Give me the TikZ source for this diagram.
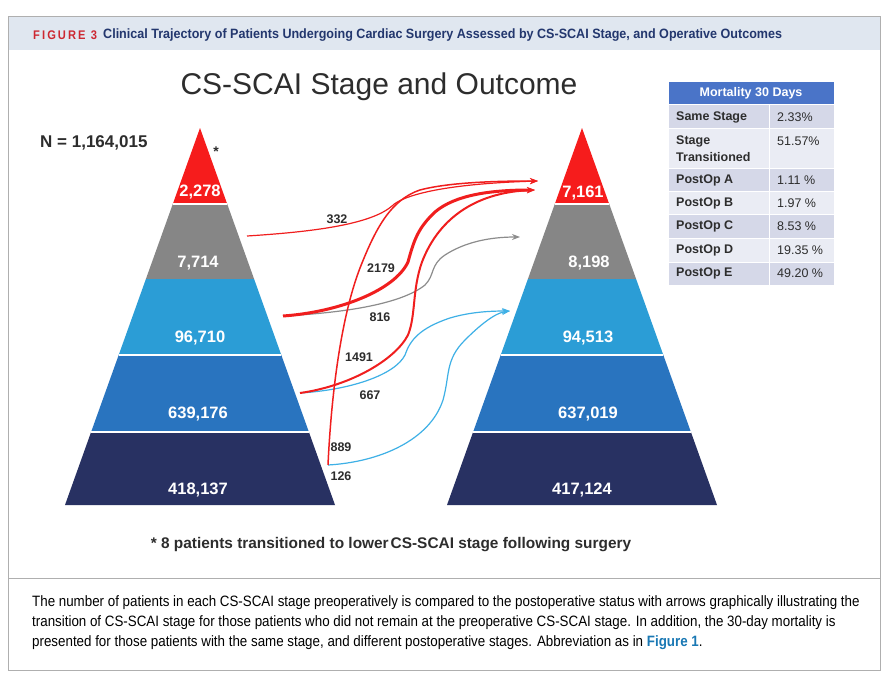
\documentclass[tikz,border=0pt]{standalone}
\usepackage{fontspec}
\setmainfont{Liberation Sans}
\newfontfamily\condfont[FakeStretch=0.89]{Liberation Sans}
\newfontfamily\hdrfont[FakeStretch=0.93]{Liberation Sans}
\usetikzlibrary{arrows.meta}
\definecolor{pred}{RGB}{246,28,28}
\definecolor{pgray}{RGB}{134,134,134}
\definecolor{plblue}{RGB}{43,157,214}
\definecolor{pmblue}{RGB}{41,116,191}
\definecolor{pnavy}{RGB}{40,49,98}
\definecolor{ared}{RGB}{240,30,30}
\definecolor{agray}{RGB}{140,140,140}
\definecolor{ablue}{RGB}{62,176,230}
\definecolor{thead}{RGB}{74,116,200}
\definecolor{rowdark}{RGB}{213,216,232}
\definecolor{rowlight}{RGB}{234,236,244}
\definecolor{hband}{RGB}{224,231,240}
\definecolor{framec}{RGB}{175,175,175}
\definecolor{figred}{RGB}{205,40,50}
\definecolor{titnavy}{RGB}{35,55,110}
\definecolor{txtdark}{RGB}{45,45,45}
\definecolor{linkblue}{RGB}{25,120,180}
\begin{document}
\begin{tikzpicture}[x=1pt,y=-1pt,
  bandlabel/.style={text=white,inner sep=0pt,font=\bfseries\fontsize{16.5}{19}\selectfont},
  cnt/.style={text=txtdark,inner sep=0pt,font=\bfseries\fontsize{12.5}{15}\selectfont},
  tcell/.style={text=txtdark,inner sep=0pt,anchor=west,font=\bfseries\fontsize{12.5}{15}\selectfont},
  tval/.style={text=txtdark,inner sep=0pt,anchor=west,font=\fontsize{12.5}{15}\selectfont},
  sep/.style={draw=white,line width=1.8pt},
  redarr/.style={draw=ared,-{Stealth[length=8pt,width=6pt]}},
  grayarr/.style={draw=agray,line width=1.2pt,-{Stealth[length=8pt,width=6pt]}},
  bluearr/.style={draw=ablue,line width=1.2pt,-{Stealth[length=8pt,width=6pt]}},
  captxt/.style={anchor=west,inner sep=0pt,text=black,font=\condfont\fontsize{15}{18}\selectfont}]
\useasboundingbox (0,0) rectangle (888,693);
\fill[white] (0,0) rectangle (888,693);
% frame
\fill[hband] (8,17) rectangle (880,50);
\draw[framec,line width=1pt] (8,17) rectangle (880,670);
\draw[framec,line width=1pt] (8,578) -- (880,578);
\node[anchor=west,inner sep=0pt,text=figred,font=\condfont\bfseries\fontsize{12.5}{14}\selectfont] (fig) at (33,35) {F\,I\,G\,U\,R\,E\,\ 3};
\node[anchor=west,inner sep=0pt,text=titnavy,font=\hdrfont\bfseries\fontsize{13.5}{15}\selectfont] (hdr) at (103,35) {Clinical Trajectory of Patients Undergoing Cardiac Surgery Assessed by CS-SCAI Stage, and Operative Outcomes};
% title
\node[text=txtdark,inner sep=0pt,font=\fontsize{30}{34}\selectfont] (title) at (379,87) {CS-SCAI Stage and Outcome};
\node[anchor=west,text=txtdark,inner sep=0pt,font=\bfseries\fontsize{17}{20}\selectfont] (ntot) at (40,143) {N = 1,164,015};
\node[text=txtdark,inner sep=0pt,font=\bfseries\fontsize{14}{16}\selectfont] (star) at (216,152) {*};
% left pyramid
\fill[pred] (200,128) -- (227.2,204) -- (172.8,204) -- cycle;
\fill[pgray] (172.8,204) -- (227.2,204) -- (254.1,279) -- (145.9,279) -- cycle;
\fill[plblue] (145.9,279) -- (254.1,279) -- (281.3,355) -- (118.7,355) -- cycle;
\fill[pmblue] (118.7,355) -- (281.3,355) -- (308.9,432) -- (91.1,432) -- cycle;
\fill[pnavy] (91.1,432) -- (308.9,432) -- (335,505) -- (65,505) -- cycle;
\draw[sep] (172.8,204) -- (227.2,204);
\draw[sep] (118.7,355) -- (281.3,355);
\draw[sep] (91.1,432) -- (308.9,432);
% right pyramid
\fill[pred] (582,128) -- (609.2,204) -- (554.8,204) -- cycle;
\fill[pgray] (554.8,204) -- (609.2,204) -- (636.1,279) -- (527.9,279) -- cycle;
\fill[plblue] (527.9,279) -- (636.1,279) -- (663.3,355) -- (500.7,355) -- cycle;
\fill[pmblue] (500.7,355) -- (663.3,355) -- (690.9,432) -- (473.1,432) -- cycle;
\fill[pnavy] (473.1,432) -- (690.9,432) -- (717,505) -- (447,505) -- cycle;
\draw[sep] (554.8,204) -- (609.2,204);
\draw[sep] (500.7,355) -- (663.3,355);
\draw[sep] (473.1,432) -- (690.9,432);
% band labels
\node[bandlabel] (L1) at (200,192) {2,278};
\node[bandlabel] (L2) at (198,263) {7,714};
\node[bandlabel] (L3) at (200,338) {96,710};
\node[bandlabel] (L4) at (198,414) {639,176};
\node[bandlabel] (L5) at (198,490) {418,137};
\node[bandlabel] (R1) at (583,193) {7,161};
\node[bandlabel] (R2) at (589,263) {8,198};
\node[bandlabel] (R3) at (588,338) {94,513};
\node[bandlabel] (R4) at (588,414) {637,019};
\node[bandlabel] (R5) at (582,490) {417,124};
% connector end points
\coordinate (sD) at (247,236);
\coordinate (sC) at (283,316);
\coordinate (sB) at (300,393);
\coordinate (sA) at (328,465);
\coordinate (tE1) at (538,181);
\coordinate (tE2) at (535,190);
\coordinate (tD) at (520,237);
\coordinate (tC) at (510,311);
% arrows
\draw[bluearr] (sB) .. controls (350,390) and (395,375) .. (405,355) .. controls (410,340) and (420,328) .. (450,318) .. controls (470,312) and (490,311) .. (tC);
\draw[bluearr] (sA) .. controls (380,462) and (430,440) .. (443,400) .. controls (450,375) and (445,360) .. (465,340) .. controls (480,325) and (495,313) .. (tC);
\draw[grayarr] (sC) .. controls (340,313) and (400,305) .. (425,285) .. controls (435,275) and (430,265) .. (445,255) .. controls (465,242) and (490,237) .. (tD);
\draw[redarr,line width=1.2pt] (sD) .. controls (310,232) and (370,225) .. (392,206) .. controls (402,196) and (440,184) .. (tE1);
\draw[redarr,line width=1.5pt] (sA) .. controls (331,400) and (340,320) .. (360,268) .. controls (375,230) and (390,200) .. (420,190) .. controls (450,182) and (500,181) .. (tE1);
\draw[redarr,line width=2pt] (sB) .. controls (350,386) and (395,360) .. (408,335) .. controls (416,315) and (412,290) .. (422,262) .. controls (440,215) and (480,192) .. (tE2);
\draw[redarr,line width=3pt] (sC) .. controls (340,312) and (395,290) .. (408,262) .. controls (414,240) and (418,228) .. (435,212) .. controls (455,195) and (490,190) .. (tE2);
% counts
\node[cnt] (c332) at (337,219) {332};
\node[cnt] (c2179) at (381,268) {2179};
\node[cnt] (c816) at (380,317) {816};
\node[cnt] (c1491) at (359,357) {1491};
\node[cnt] (c667) at (370,395) {667};
\node[cnt] (c889) at (341,447) {889};
\node[cnt] (c126) at (341,476) {126};
% table
\fill[thead] (669,82) rectangle (834,104);
\fill[rowdark] (669,104) rectangle (834,128);
\fill[rowlight] (669,128) rectangle (834,168);
\fill[rowdark] (669,168) rectangle (834,191);
\fill[rowlight] (669,191) rectangle (834,214);
\fill[rowdark] (669,214) rectangle (834,238);
\fill[rowlight] (669,238) rectangle (834,262);
\fill[rowdark] (669,262) rectangle (834,285);
\foreach \yy in {104,128,168,191,214,238,262} \draw[white,line width=1pt] (669,\yy) -- (834,\yy);
\draw[white,line width=1pt] (769,104) -- (769,285);
\node[text=white,inner sep=0pt,font=\bfseries\fontsize{12.5}{15}\selectfont] (th) at (751,93) {Mortality 30 Days};
\node[tcell] (t1) at (676,117) {Same Stage};
\node[tcell] (t2) at (676,141) {Stage};
\node[tcell] (t2b) at (676,157) {Transitioned};
\node[tcell] (t3) at (676,180) {PostOp A};
\node[tcell] (t4) at (676,203) {PostOp B};
\node[tcell] (t5) at (676,226) {PostOp C};
\node[tcell] (t6) at (676,250) {PostOp D};
\node[tcell] (t7) at (676,273) {PostOp E};
\node[tval] (v1) at (777,117) {2.33\%};
\node[tval] (v2) at (777,141) {51.57\%};
\node[tval] (v3) at (777,180) {1.11 \%};
\node[tval] (v4) at (777,203) {1.97 \%};
\node[tval] (v5) at (777,226) {8.53 \%};
\node[tval] (v6) at (777,250) {19.35 \%};
\node[tval] (v7) at (777,273) {49.20 \%};
% footnote
\node[text=txtdark,inner sep=0pt,font=\bfseries\fontsize{15.4}{18}\selectfont] (foot) at (391,545) {* 8 patients transitioned to lower\kern2pt CS-SCAI stage following surgery};
% caption
\node[captxt] (cap1) at (32,603) {The number of patients in each CS-SCAI stage preoperatively is compared to the postoperative status with arrows graphically illustrating the};
\node[captxt] (cap2) at (32,623) {transition of CS-SCAI stage for those patients who did not remain at the preoperative CS-SCAI stage. In addition, the 30-day mortality is};
\node[captxt] (cap3) at (32,643) {presented for those patients with the same stage, and different postoperative stages. Abbreviation as in \textcolor{linkblue}{\bfseries Figure 1}.};
\end{tikzpicture}
\end{document}
